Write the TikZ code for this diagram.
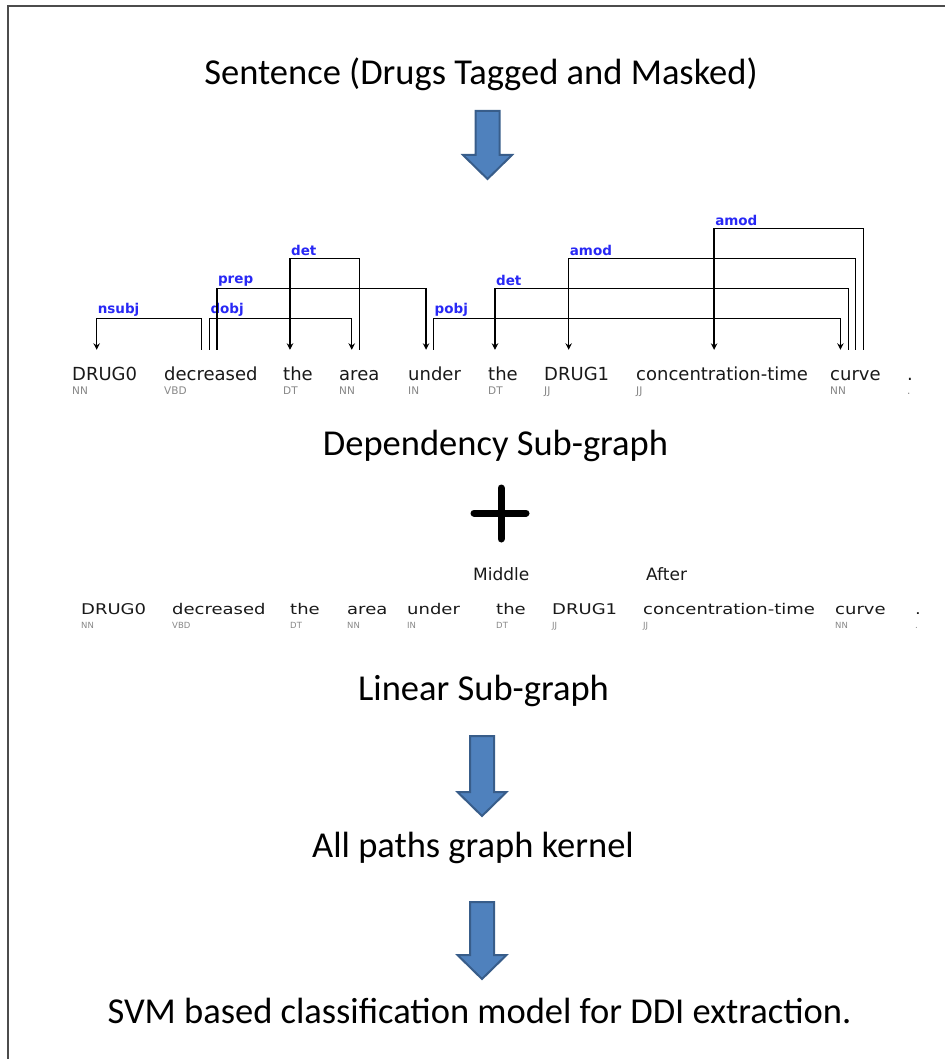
\documentclass[tikz,border=0pt]{standalone}
\usepackage{fontspec}
\setmainfont{Carlito}
\newfontfamily\depfont{DejaVu Sans}
\usetikzlibrary{arrows.meta,calc}
\definecolor{steel}{RGB}{79,129,189}
\definecolor{steeldark}{RGB}{56,93,138}
\definecolor{arcblue}{RGB}{40,40,245}
\definecolor{taggray}{RGB}{135,135,135}
\definecolor{ink}{RGB}{25,25,25}
\tikzset{
  >={Stealth[length=6.5pt,width=6.5pt]},
  title/.style={anchor=base,inner sep=0pt,font=\fontsize{36.5}{40}\selectfont,text=black},
  word/.style={anchor=base west,inner sep=0pt,text height=14pt,text depth=4pt,
    font=\depfont\fontsize{18}{20}\selectfont,text=ink},
  lword/.style={word,yscale=0.82,transform shape},
  tag/.style={anchor=base west,inner sep=0pt,font=\depfont\fontsize{10.5}{12}\selectfont,text=taggray},
  ltag/.style={tag,font=\depfont\fontsize{8.5}{10}\selectfont},
  dep/.style={draw=black,line width=1.3pt},
  toleft/.style={<-},
  toright/.style={->},
  deplab/.style={anchor=south west,inner xsep=0.5pt,inner ysep=2pt,
    font=\depfont\bfseries\fontsize{13.5}{15}\selectfont,text=arcblue},
  zone/.style={anchor=base west,inner sep=0pt,font=\depfont\fontsize{17}{19}\selectfont,text=ink},
  frame/.style={draw=black!70,line width=1.5pt},
  % block arrow, #1 = length
  pics/blockarrow/.style={code={
    \filldraw[fill=steel,draw=steeldark,line width=2pt,line join=miter]
      (-12,0) -- (12,0) -- (12,#1-24) -- (24.5,#1-24) -- (0,#1)
      -- (-24.5,#1-24) -- (-12,#1-24) -- cycle;
  }},
}

\begin{document}
\begin{tikzpicture}[x=1pt,y=-1pt]
  \useasboundingbox (0,0) rectangle (945,1059);
  \draw[frame] (8,1059) -- (8,6) -- (945,6);

  \node[title] (sent) at (481,85) {Sentence (Drugs Tagged and Masked)};
  \pic at (487.5,111) {blockarrow=68};

  % dependency parse
  \foreach \i/\x/\w/\t in {1/72/DRUG0/NN,2/164/decreased/VBD,3/283/the/DT,4/339/area/NN,
    5/408/under/IN,6/488/the/DT,7/544/DRUG1/JJ,8/636/concentration-time/JJ,9/830/curve/NN,10/907/./.}{
    \node[word] (d\i) at (\x,380) {\w};
    \node[tag] (dt\i) at (\x,394) {\t};
  }
  \foreach \dir/\l/\lo/\r/\ro/\h/\lab in {toleft/1/-8/2/-9.5/31/nsubj,toright/2/-1.5/4/-7.5/31/dobj,
    toright/2/6/5/-8.5/61/prep,toleft/3/-8/4/0/91/det,toright/5/-1/9/-15/31/pobj,
    toleft/6/-8/9/-7/61/det,toleft/7/-8/9/0/91/amod,toleft/8/-8/9/8/121/amod}{
    \draw[dep,\dir] ([xshift=\lo pt,yshift=16pt]d\l.north) -- ++(0,-\h) node[deplab] {\lab}
      -| ([xshift=\ro pt,yshift=16pt]d\r.north);
  }

  \node[title] (depgraph) at (495.5,455) {Dependency Sub-graph};
  \draw[line width=7pt,line cap=round] (474,513) -- (526,513) (501,488) -- (501,539);

  % linear parse
  \node[zone] (middle) at (473,580) {Middle};
  \node[zone] (after) at (646,580) {After};
  \foreach \i/\x/\w/\t in {1/81/DRUG0/NN,2/172/decreased/VBD,3/290/the/DT,4/347/area/NN,
    5/407/under/IN,6/496/the/DT,7/552/DRUG1/JJ,8/643/concentration-time/JJ,9/835/curve/NN,10/915/./.}{
    \node[lword] (l\i) at (\x,614) {\w};
    \node[ltag] (lt\i) at (\x,628) {\t};
  }

  \node[title] (lingraph) at (483.5,700) {Linear Sub-graph};
  \pic at (482,736) {blockarrow=80};
  \node[title] (kernel) at (473,857) {All paths graph kernel};
  \pic at (482,902) {blockarrow=77};
  \node[title] (svm) at (479.5,1023) {SVM based classification model for DDI extraction.};
\end{tikzpicture}
\end{document}
